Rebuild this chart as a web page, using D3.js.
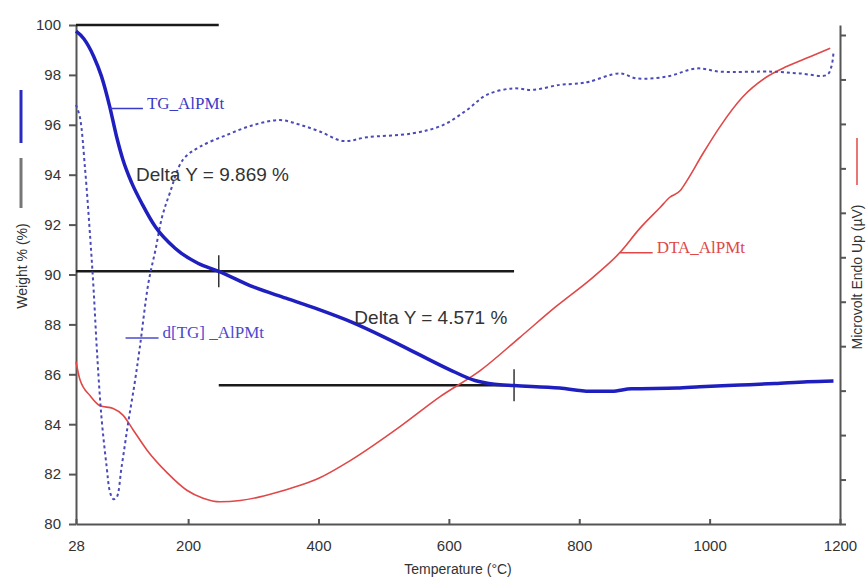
<!DOCTYPE html>
<html>
<head>
<meta charset="utf-8">
<script src="https://cdn.jsdelivr.net/npm/d3@7"></script>
<style>
  body { margin: 0; background: #fff; }
  .axis path, .axis line { stroke: #555; stroke-width: 2; }
  .axis text { font-family: "Liberation Sans", Arial, sans-serif; font-size: 15px; fill: #333; }
</style>
</head>
<body>
<div id="chart"></div>
<script>
// temperature (°C) -> weight %
const tgTemp = [28, 40, 55, 67, 80, 90, 100, 113, 130, 150, 180, 215, 247, 300, 350, 400, 450, 500, 550, 600, 640, 670, 700, 770, 816, 850, 880, 950, 985, 1047, 1100, 1150, 1190];
const tgVal  = [99.75, 99.45, 98.75, 97.95, 96.7, 95.55, 94.6, 93.7, 92.8, 91.9, 91.05, 90.45, 90.13, 89.5, 89.05, 88.6, 88.1, 87.5, 86.85, 86.2, 85.75, 85.6, 85.55, 85.45, 85.32, 85.32, 85.42, 85.45, 85.5, 85.57, 85.63, 85.7, 85.73];

// derivative curve, drawn on the weight scale
const dtgTemp = [28, 34, 42, 50, 55, 60, 67, 75, 80, 85, 90, 98, 108, 118, 126, 139, 150, 160, 172, 192, 218, 259, 300, 341, 372, 402, 438, 474, 545, 591, 628, 658, 698, 729, 770, 801, 816, 862, 888, 934, 980, 1016, 1097, 1138, 1180, 1187, 1190];
const dtgVal  = [96.8, 96.3, 94.2, 91.4, 89.4, 87.0, 84.3, 82.3, 81.3, 81.0, 81.05, 82.3, 84.05, 85.65, 87.1, 89.65, 91.0, 92.3, 93.27, 94.6, 95.12, 95.59, 95.99, 96.19, 96.0, 95.73, 95.35, 95.5, 95.66, 95.99, 96.6, 97.2, 97.46, 97.4, 97.6, 97.66, 97.73, 98.06, 97.86, 97.93, 98.26, 98.13, 98.13, 98.06, 98.0, 98.35, 98.9];

// DTA signal, right axis units (tick = 1)
const dtaTemp = [28, 34, 50, 65, 85, 100, 116, 137, 168, 198, 223, 249, 280, 310, 341, 372, 402, 448, 525, 586, 648, 709, 765, 821, 862, 893, 924, 939, 955, 965, 990, 1016, 1051, 1088, 1118, 1154, 1185];
const dtaVal  = [3.65, 3.25, 2.88, 2.66, 2.6, 2.45, 2.11, 1.66, 1.15, 0.76, 0.58, 0.5, 0.53, 0.61, 0.73, 0.87, 1.04, 1.42, 2.19, 2.86, 3.45, 4.2, 4.9, 5.55, 6.1, 6.65, 7.12, 7.35, 7.5, 7.72, 8.34, 8.94, 9.61, 10.06, 10.29, 10.51, 10.7];

const xTicks = [28, 200, 400, 600, 800, 1000, 1200];
const yTicks = [80, 82, 84, 86, 88, 90, 92, 94, 96, 98, 100];
const rightTicks = [0, 1, 2, 3, 4, 5, 6, 7, 8, 9, 10, 11];

// step analysis lines
const steps = [
  { from: 28, to: 247, level: 100 },
  { from: 28, to: 700, level: 90.131, mark: 247 },
  { from: 247, to: 700, level: 85.56, mark: 700 }
];
const deltaLabels = [
  { text: "Delta Y = 9.869 %", t: 120, w: 94.0 },
  { text: "Delta Y = 4.571 %", t: 455, w: 88.3 }
];

document.addEventListener("DOMContentLoaded", function () {
  const width = 868, height = 579;
  const margin = { top: 25, right: 28, bottom: 55, left: 76 };

  const svg = d3.select("#chart").append("svg")
    .attr("width", width)
    .attr("height", height);

  const x = d3.scaleLinear().domain([28, 1200]).range([margin.left, width - margin.right]);
  const y = d3.scaleLinear().domain([80, 100]).range([height - margin.bottom, margin.top]);
  const yr = d3.scaleLinear().domain([0, 11.225]).range([height - margin.bottom, margin.top]);

  // axes
  svg.append("g").attr("class", "axis")
    .attr("transform", `translate(0,${height - margin.bottom})`)
    .call(d3.axisBottom(x).tickValues(xTicks).tickFormat(d3.format("d")).tickSize(-5).tickSizeOuter(0).tickPadding(16));
  svg.append("g").attr("class", "axis")
    .attr("transform", `translate(${margin.left},0)`)
    .call(d3.axisLeft(y).tickValues(yTicks).tickSize(7).tickSizeOuter(0).tickPadding(8));
  svg.append("g").attr("class", "axis")
    .attr("transform", `translate(${width - margin.right},0)`)
    .call(d3.axisRight(yr).tickValues(rightTicks).tickSize(6).tickSizeOuter(0).tickFormat(""));

  // step lines
  steps.forEach(s => {
    svg.append("line")
      .attr("x1", x(s.from)).attr("x2", x(s.to))
      .attr("y1", y(s.level)).attr("y2", y(s.level))
      .attr("stroke", "#1a1a1a").attr("stroke-width", 2.5);
    if (s.mark) {
      svg.append("line")
        .attr("x1", x(s.mark)).attr("x2", x(s.mark))
        .attr("y1", y(s.level) - 16).attr("y2", y(s.level) + 16)
        .attr("stroke", "#333").attr("stroke-width", 1.5);
    }
  });

  const line = d3.line().curve(d3.curveMonotoneX);

  svg.append("path")
    .attr("d", line(dtaTemp.map((t, i) => [x(t), yr(dtaVal[i])])))
    .attr("fill", "none").attr("stroke", "#e04848").attr("stroke-width", 1.6);

  svg.append("path")
    .attr("d", d3.line().curve(d3.curveCatmullRom)(dtgTemp.map((t, i) => [x(t), y(dtgVal[i])])))
    .attr("fill", "none").attr("stroke", "#4a4ab8").attr("stroke-width", 2)
    .attr("stroke-dasharray", "3,3");

  svg.append("path")
    .attr("d", line(tgTemp.map((t, i) => [x(t), y(tgVal[i])])))
    .attr("fill", "none").attr("stroke", "#1f1fbf").attr("stroke-width", 3.5);

  deltaLabels.forEach(d => {
    svg.append("text")
      .attr("x", x(d.t)).attr("y", y(d.w))
      .attr("dy", "0.35em")
      .attr("font-family", "Liberation Sans, Arial, sans-serif")
      .attr("font-size", 19)
      .attr("fill", "#333")
      .text(d.text);
  });

  // curve labels with leader line
  const curveLabels = [
    { text: "TG_AlPMt", t: 80, v: 96.65, s: y, color: "#3a3ac8" },
    { text: "d[TG] _AlPMt", t: 104, v: 87.45, s: y, color: "#4a4ad0" },
    { text: "DTA_AlPMt", t: 862, v: 6.1, s: yr, color: "#e04848" }
  ];
  curveLabels.forEach(d => {
    const lx = x(d.t), ly = d.s(d.v);
    svg.append("line")
      .attr("x1", lx).attr("x2", lx + 33)
      .attr("y1", ly).attr("y2", ly)
      .attr("stroke", d.color).attr("stroke-width", 1.5);
    svg.append("text")
      .attr("x", lx + 37).attr("y", ly)
      .attr("font-family", "Liberation Serif, Times New Roman, serif")
      .attr("font-size", 17)
      .attr("fill", d.color)
      .text(d.text);
  });

  // axis titles with colour keys
  svg.append("text")
    .attr("transform", `translate(${x(614)},${height - 5})`)
    .attr("text-anchor", "middle")
    .attr("font-family", "Liberation Sans, Arial, sans-serif")
    .attr("font-size", 14).attr("fill", "#333")
    .text("Temperature (°C)");

  svg.append("text")
    .attr("transform", "translate(27,266) rotate(-90)")
    .attr("text-anchor", "middle")
    .attr("font-family", "Liberation Sans, Arial, sans-serif")
    .attr("font-size", 14).attr("fill", "#333")
    .text("Weight % (%)");
  svg.append("line").attr("x1", 21).attr("x2", 21).attr("y1", 90).attr("y2", 143)
    .attr("stroke", "#2a2ac0").attr("stroke-width", 3);
  svg.append("line").attr("x1", 21).attr("x2", 21).attr("y1", 158).attr("y2", 208)
    .attr("stroke", "#777").attr("stroke-width", 3);

  svg.append("text")
    .attr("transform", "translate(862,277) rotate(-90)")
    .attr("text-anchor", "middle")
    .attr("font-family", "Liberation Sans, Arial, sans-serif")
    .attr("font-size", 14).attr("fill", "#333")
    .text("Microvolt Endo Up (µV)");
  svg.append("line").attr("x1", 857).attr("x2", 857).attr("y1", 138).attr("y2", 185)
    .attr("stroke", "#e04848").attr("stroke-width", 1.5);
});
</script>
</body>
</html>
